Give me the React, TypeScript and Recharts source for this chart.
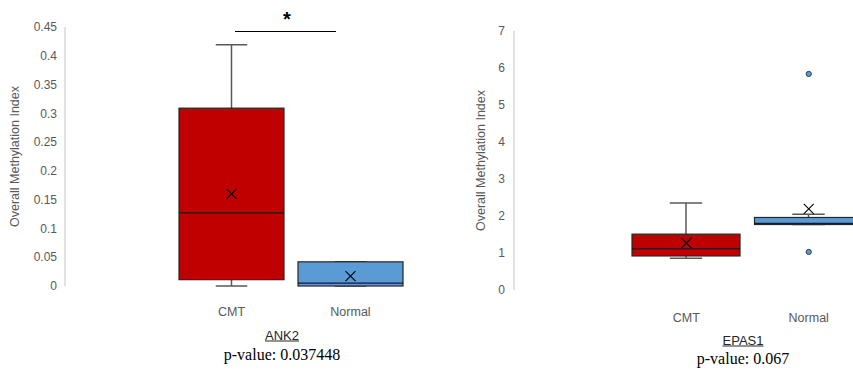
import React from "react";
import { ComposedChart, Bar, Scatter, XAxis, YAxis } from "recharts";

const GROUPS = ["CMT", "Normal"];
const FILLS = ["#c00000", "#5b9bd5"];
const AXIS_TEXT = "#595959";
const AXIS_LINE = "#d9d9d9";
const FONT = "'Liberation Sans', Arial, sans-serif";

// ANK2 panel
const ANK2_MIN = [0.0, 0.0];
const ANK2_Q1 = [0.011, 0.0];
const ANK2_MEDIAN = [0.127, 0.005];
const ANK2_Q3 = [0.309, 0.042];
const ANK2_MAX = [0.419, 0.042];
const ANK2_MEAN = [0.16, 0.017];
const ANK2_OUT_HI: (number | null)[] = [null, null];
const ANK2_OUT_LO: (number | null)[] = [null, null];
const ANK2_TICKS = [0, 0.05, 0.1, 0.15, 0.2, 0.25, 0.3, 0.35, 0.4, 0.45];

// EPAS1 panel
const EPAS1_MIN = [0.86, 1.77];
const EPAS1_Q1 = [0.92, 1.77];
const EPAS1_MEDIAN = [1.11, 1.8];
const EPAS1_Q3 = [1.51, 1.96];
const EPAS1_MAX = [2.35, 2.05];
const EPAS1_MEAN = [1.27, 2.19];
const EPAS1_OUT_HI: (number | null)[] = [null, 5.84];
const EPAS1_OUT_LO: (number | null)[] = [null, 1.03];
const EPAS1_TICKS = [0, 1, 2, 3, 4, 5, 6, 7];

const buildRows = (
  min: number[], q1: number[], median: number[], q3: number[], max: number[],
  mean: number[], outHi: (number | null)[], outLo: (number | null)[]
) =>
  GROUPS.map((name, i) => ({
    name,
    fill: FILLS[i],
    range: [min[i], max[i]],
    min: min[i], q1: q1[i], median: median[i], q3: q3[i], max: max[i],
    mean: mean[i],
    outHi: outHi[i],
    outLo: outLo[i],
  }));

const ank2Rows = buildRows(ANK2_MIN, ANK2_Q1, ANK2_MEDIAN, ANK2_Q3, ANK2_MAX, ANK2_MEAN, ANK2_OUT_HI, ANK2_OUT_LO);
const epas1Rows = buildRows(EPAS1_MIN, EPAS1_Q1, EPAS1_MEDIAN, EPAS1_Q3, EPAS1_MAX, EPAS1_MEAN, EPAS1_OUT_HI, EPAS1_OUT_LO);

// draws whiskers + box from the bar's [min,max] pixel span
const BoxShape = (props: any) => {
  const { x, y, width, height, payload } = props;
  const { min, max, q1, q3, median, fill } = payload;
  const span = max - min || 1;
  const py = (v: number) => y + ((max - v) / span) * height;
  const cx = x + width / 2;
  const cap = width * 0.3;
  return (
    <g>
      <line x1={cx} x2={cx} y1={py(max)} y2={py(q3)} stroke={AXIS_TEXT} strokeWidth={1.5} />
      <line x1={cx} x2={cx} y1={py(q1)} y2={py(min)} stroke={AXIS_TEXT} strokeWidth={1.5} />
      <line x1={cx - cap / 2} x2={cx + cap / 2} y1={py(max)} y2={py(max)} stroke={AXIS_TEXT} strokeWidth={1.5} />
      <line x1={cx - cap / 2} x2={cx + cap / 2} y1={py(min)} y2={py(min)} stroke={AXIS_TEXT} strokeWidth={1.5} />
      <rect x={x} y={py(q3)} width={width} height={Math.max(py(q1) - py(q3), 1)} fill={fill} stroke="#262626" strokeWidth={1.2} />
      <line x1={x} x2={x + width} y1={py(median)} y2={py(median)} stroke="#1a1a1a" strokeWidth={1.2} />
    </g>
  );
};

const MeanShape = (props: any) => {
  const { cx, cy } = props;
  if (cx == null || cy == null) return <g />;
  const s = 5;
  return (
    <g>
      <line x1={cx - s} y1={cy - s} x2={cx + s} y2={cy + s} stroke="#000" strokeWidth={1.1} />
      <line x1={cx - s} y1={cy + s} x2={cx + s} y2={cy - s} stroke="#000" strokeWidth={1.1} />
    </g>
  );
};

const OutlierShape = (props: any) => {
  const { cx, cy, payload, dataKey } = props;
  if (cx == null || cy == null || payload == null || payload[dataKey] == null) return <g />;
  return <circle cx={cx} cy={cy} r={2.6} fill={payload.fill} stroke="#333f50" strokeWidth={1} />;
};

const BoxPanel: React.FC<{
  rows: any[];
  ticks: number[];
  width: number;
  top: number;
  plotBottom: number;
  yWidth: number;
  padLeft: number;
  barSize: number;
  tickGap: number;
  labelDy: number;
  titleOffset: number;
}> = ({ rows, ticks, width, top, plotBottom, yWidth, padLeft, barSize, tickGap, labelDy, titleOffset }) => {
  const xHeight = 44;
  const height = plotBottom + xHeight;
  return (
    <ComposedChart width={width} height={height} data={rows} margin={{ top, right: 0, bottom: 0, left: 0 }}>
      <XAxis
        dataKey="name"
        height={xHeight}
        axisLine={false}
        tickLine={false}
        tickMargin={labelDy}
        padding={{ left: padLeft, right: 0 }}
        tick={{ fill: AXIS_TEXT, fontSize: 12.5, fontFamily: FONT }}
      />
      <YAxis
        width={yWidth}
        domain={[ticks[0], ticks[ticks.length - 1]]}
        ticks={ticks}
        interval={0}
        tickLine={false}
        tickMargin={tickGap}
        axisLine={{ stroke: AXIS_LINE, strokeWidth: 1.5 }}
        tick={{ fill: AXIS_TEXT, fontSize: 12, fontFamily: FONT }}
        label={{
          value: "Overall Methylation Index",
          angle: -90,
          position: "insideLeft",
          offset: titleOffset,
          style: { textAnchor: "middle", fill: AXIS_TEXT, fontSize: 12.5, fontFamily: FONT },
        }}
      />
      <Bar dataKey="range" barSize={barSize} shape={<BoxShape />} isAnimationActive={false} />
      <Scatter dataKey="outHi" shape={<OutlierShape dataKey="outHi" />} isAnimationActive={false} />
      <Scatter dataKey="outLo" shape={<OutlierShape dataKey="outLo" />} isAnimationActive={false} />
      <Scatter dataKey="mean" shape={<MeanShape />} isAnimationActive={false} />
    </ComposedChart>
  );
};

const captionStyle: React.CSSProperties = {
  position: "absolute",
  transform: "translate(-50%, -50%)",
  whiteSpace: "nowrap",
  lineHeight: 1,
};

export default function App() {
  return (
    <div style={{ position: "absolute", left: 0, top: 0, width: 853, height: 371, overflow: "hidden", background: "#fff" }}>
      <div style={{ position: "absolute", left: 0, top: 0 }}>
        <BoxPanel rows={ank2Rows} ticks={ANK2_TICKS} width={410} top={27} plotBottom={286} yWidth={65} padLeft={107} barSize={105} tickGap={2} labelDy={15} titleOffset={15} />
      </div>
      <div style={{ position: "absolute", left: 430, top: 0 }}>
        <BoxPanel rows={epas1Rows} ticks={EPAS1_TICKS} width={440} top={31} plotBottom={290} yWidth={84} padLeft={111} barSize={108} tickGap={3} labelDy={17} titleOffset={51} />
      </div>

      {/* significance bracket */}
      <div style={{ position: "absolute", left: 235, top: 31, width: 101, borderTop: "1px solid #000" }} />
      <div style={{ ...captionStyle, left: 287, top: 19, fontFamily: FONT, fontWeight: "bold", fontSize: 20, color: "#000" }}>*</div>

      <div style={{ ...captionStyle, left: 282, top: 335, fontFamily: FONT, fontSize: 13, color: "#262626", textDecoration: "underline" }}>ANK2</div>
      <div style={{ ...captionStyle, left: 282, top: 355, fontFamily: "'Liberation Serif', 'Times New Roman', serif", fontSize: 16, color: "#000" }}>p-value: 0.037448</div>

      <div style={{ ...captionStyle, left: 743, top: 340, fontFamily: FONT, fontSize: 13, color: "#262626", textDecoration: "underline" }}>EPAS1</div>
      <div style={{ ...captionStyle, left: 743, top: 359, fontFamily: "'Liberation Serif', 'Times New Roman', serif", fontSize: 16, color: "#000" }}>p-value: 0.067</div>
    </div>
  );
}
